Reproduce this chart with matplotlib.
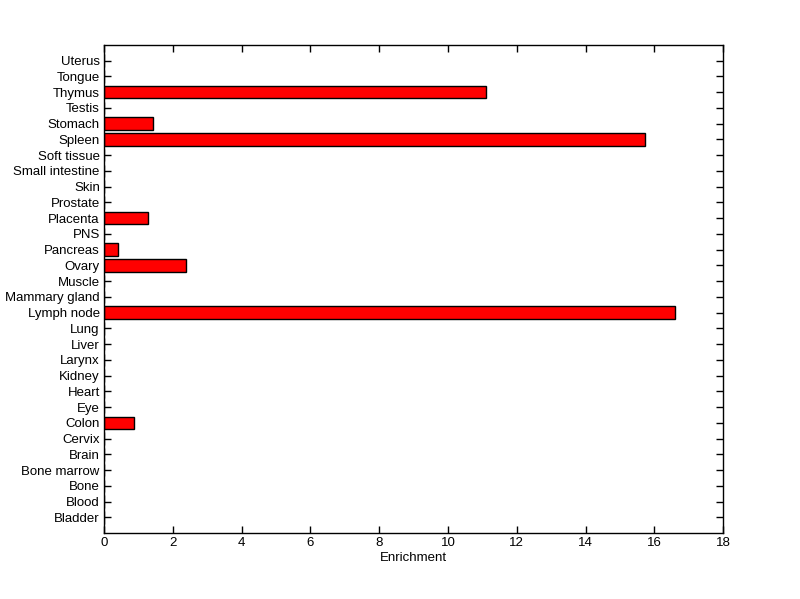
import matplotlib
matplotlib.use("Agg")
import matplotlib.pyplot as plt

tissues = ["Bladder", "Blood", "Bone", "Bone marrow", "Brain", "Cervix", "Colon", "Eye",
           "Heart", "Kidney", "Larynx", "Liver", "Lung", "Lymph node", "Mammary gland",
           "Muscle", "Ovary", "Pancreas", "PNS", "Placenta", "Prostate", "Skin",
           "Small intestine", "Soft tissue", "Spleen", "Stomach", "Testis", "Thymus",
           "Tongue", "Uterus"]
enrichment = [0, 0, 0, 0, 0, 0, 0.87, 0, 0, 0, 0, 0, 0, 16.59, 0, 0, 2.38, 0.41, 0,
              1.28, 0, 0, 0, 0, 15.73, 1.42, 0, 11.1, 0, 0]
xticks = [0, 2, 4, 6, 8, 10, 12, 14, 16, 18]

plt.rcParams['font.family'] = ['Liberation Sans', 'DejaVu Sans']
fig = plt.figure(figsize=(8, 5.99), dpi=100)
ax = fig.add_axes([0.13, 0.11, 0.774, 0.815])
pos = list(range(1, len(tissues) + 1))
ax.barh(pos, enrichment, height=0.8, color='#ff0000', edgecolor='black', linewidth=1)
ax.set_axisbelow(True)
ax.set_xlim(0, 18)
ax.set_ylim(0, len(tissues) + 1)
ax.set_xticks(xticks)
ax.set_yticks(pos)
ax.set_yticklabels(tissues)
ax.tick_params(direction='in', top=True, right=True, length=5, width=1, labelsize=9.5, pad=3)
for s in ax.spines.values():
    s.set_linewidth(1)
ax.set_xlabel("Enrichment", fontsize=9.5, labelpad=2)
fig.savefig("out.png", dpi=100)
